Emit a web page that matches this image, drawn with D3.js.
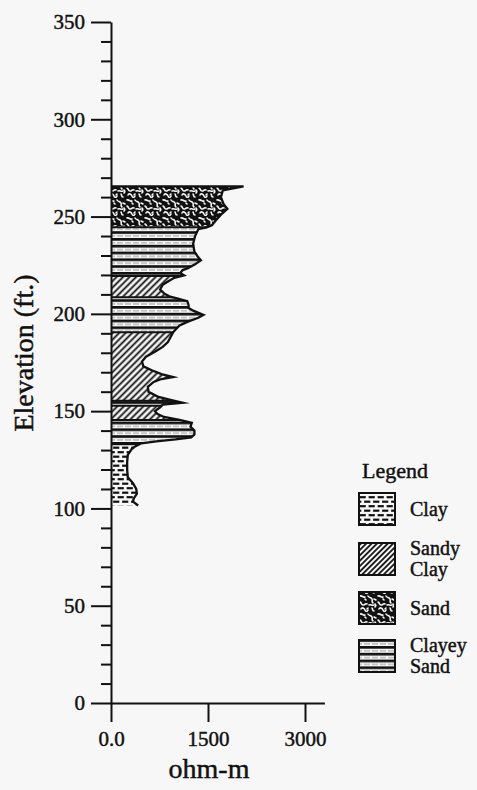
<!DOCTYPE html>
<html>
<head>
<meta charset="utf-8">
<script src="https://cdn.jsdelivr.net/npm/d3@7"></script>
<style>
  html, body { margin: 0; padding: 0; background: #f7f7f7; }
  svg { display: block; font-family: "Liberation Serif", "Times New Roman", serif; }
  svg text { stroke: #111; stroke-width: 0.45px; }
</style>
</head>
<body>
<svg id="chart" width="477" height="790"></svg>
<script>
// Resistivity log, read from top of hole to bottom
const logElevation = [265.5, 263.5, 260, 256.5, 254, 251, 248, 245.5, 244.5, 243.5, 240, 236, 232, 229.5, 227.5, 225.5, 223.5, 222.5, 221, 219.8, 218.5, 217, 215, 212.5, 210.5, 209, 208, 206.5, 204.5, 203, 201.5, 199.5, 198, 196, 194, 192, 190.5, 188, 185.5, 183, 180.5, 178, 175.5, 173, 171, 169, 167.5, 166.5, 165, 162.5, 160, 157.5, 155.5, 154.3, 153.3, 152, 150, 148.5, 147, 145.5, 144, 142, 140, 138, 136.5, 135.5, 134.5, 133.5, 132, 130.5, 127.5, 124, 120, 116, 113, 110, 107.5, 105, 103.5, 101.5];
const logResistivity = [2050, 1730, 1700, 1740, 1800, 1700, 1620, 1560, 1480, 1350, 1300, 1270, 1290, 1340, 1390, 1300, 1190, 1110, 1070, 1130, 980, 900, 800, 760, 820, 900, 1020, 1180, 1200, 1200, 1280, 1430, 1350, 1190, 1060, 1000, 960, 920, 880, 800, 680, 540, 480, 500, 630, 780, 960, 780, 660, 570, 580, 720, 950, 1110, 800, 760, 680, 720, 820, 1060, 1250, 1230, 1290, 1290, 1240, 1000, 700, 470, 380, 320, 260, 250, 250, 260, 340, 390, 400, 350, 340, 420];

// Lithology intervals (ft)
const layerTop    = [265.5, 244.5, 219.5, 208.5, 190.5, 155.3, 152.8, 145.5, 133];
const layerBottom = [244.5, 219.5, 208.5, 190.5, 155.3, 152.8, 145.5, 133, 101.5];
const layerType   = ["sand", "clayeySand", "sandyClay", "clayeySand", "sandyClay", "clayeySand", "sandyClay", "clayeySand", "clay"];

// Axes
const elevTickValues = [0, 50, 100, 150, 200, 250, 300, 350];
const elevMinorTicks = [10, 20, 30, 40, 60, 70, 80, 90, 110, 120, 130, 140, 160, 170, 180, 190, 210, 220, 230, 240, 260, 270, 280, 290, 310, 320, 330, 340];
const resTickValues = [0, 1500, 3000];
const resTickLabels = ["0.0", "1500", "3000"];

// Legend
const legendKeys = ["clay", "sandyClay", "sand", "clayeySand"];
const legendLabels = [["Clay"], ["Sandy", "Clay"], ["Sand"], ["Clayey", "Sand"]];

const PAPER = "#f7f7f7";
const INK = "#111";

const svg = d3.select("#chart");
svg.append("rect").attr("width", 477).attr("height", 790).attr("fill", PAPER).attr("stroke", "none");

const y = d3.scaleLinear().domain([0, 350]).range([703, 22]);
const x = d3.scaleLinear().domain([0, 3300]).range([111, 324.4]);

// ---- fill patterns ----
const defs = svg.append("defs");

// clayey sand: heavy horizontal rules with a faint dashed rule between
const pCS = defs.append("pattern").attr("id", "clayeySand")
  .attr("patternUnits", "userSpaceOnUse").attr("width", 8).attr("height", 6.8);
pCS.append("rect").attr("width", 8).attr("height", 6.8).attr("fill", PAPER);
pCS.append("rect").attr("y", 0).attr("width", 8).attr("height", 2.7).attr("fill", INK);
pCS.append("line").attr("x1", 0).attr("x2", 8).attr("y1", 4.8).attr("y2", 4.8)
  .attr("stroke", "#555").attr("stroke-width", 0.6).attr("stroke-dasharray", "3,2");

// sandy clay: diagonal hatching
function hatch(id, spacing) {
  const p = defs.append("pattern").attr("id", id)
    .attr("patternUnits", "userSpaceOnUse").attr("width", spacing).attr("height", spacing)
    .attr("patternTransform", "rotate(45)");
  p.append("rect").attr("width", spacing).attr("height", spacing).attr("fill", PAPER);
  p.append("line").attr("x1", spacing / 2).attr("x2", spacing / 2).attr("y1", 0).attr("y2", spacing)
    .attr("stroke", INK).attr("stroke-width", 1.8);
}
hatch("sandyClay", 4.6);
hatch("sandyClayKey", 3.8);

// clay: staggered brick dashes
const pC = defs.append("pattern").attr("id", "clay")
  .attr("patternUnits", "userSpaceOnUse").attr("width", 9).attr("height", 9);
pC.append("rect").attr("width", 9).attr("height", 9).attr("fill", PAPER);
[[0.6, 2.2, 6.8, 2.2], [5.1, 6.7, 9, 6.7], [0, 6.7, 2.3, 6.7]].forEach(s => {
  pC.append("line").attr("x1", s[0]).attr("y1", s[1]).attr("x2", s[2]).attr("y2", s[3])
    .attr("stroke", INK).attr("stroke-width", 2.2);
});

// sand: dark ground broken by curly light grains
const pS = defs.append("pattern").attr("id", "sand")
  .attr("patternUnits", "userSpaceOnUse").attr("width", 18).attr("height", 18);
pS.append("rect").attr("width", 18).attr("height", 18).attr("fill", INK);
[
  "M1,2 c2,-1 3,2 5,1",
  "M9,2 c1,2 3,1 4,3 s-1,3 1,4",
  "M1,8 c2,1 1,3 3,3 c2,0 2,-2 4,-1",
  "M10,11 c2,-1 3,1 5,0",
  "M2,15 c1,-2 3,-1 4,1 s2,2 3,0",
  "M13,14 c1,1 0,3 2,3",
  "M15,5 l2,1",
  "M6,5 l1,1",
  "M16,10 c1,1 1,2 0,3",
  "M8,15 l1,-1"
].forEach(d => {
  pS.append("path").attr("d", d).attr("fill", "none").attr("stroke", PAPER)
    .attr("stroke-width", 1.6).attr("stroke-linecap", "round");
});

// ---- log profile ----
const pts = logElevation.map((e, i) => ({ e: e, r: logResistivity[i] }));

const area = d3.area()
  .y(d => y(d.e))
  .x0(x(0))
  .x1(d => x(d.r));

// resistivity on the log at a given elevation (linear between samples)
function resAt(e) {
  for (let i = 0; i < pts.length - 1; i++) {
    const a = pts[i], b = pts[i + 1];
    if (e <= a.e && e >= b.e) {
      const t = (a.e - e) / (a.e - b.e);
      return a.r + t * (b.r - a.r);
    }
  }
  return pts[pts.length - 1].r;
}

const plot = svg.append("g");
layerType.forEach((type, i) => {
  const cid = "clip" + i;
  defs.append("clipPath").attr("id", cid).append("rect")
    .attr("x", x(0)).attr("width", 300)
    .attr("y", y(layerTop[i])).attr("height", y(layerBottom[i]) - y(layerTop[i]));
  plot.append("path").datum(pts)
    .attr("d", area)
    .attr("fill", "url(#" + type + ")")
    .attr("clip-path", "url(#" + cid + ")");
});

// interval boundaries
const bounds = layerBottom.slice(0, -1);
plot.selectAll("line.bound").data(bounds).join("line")
  .attr("class", "bound")
  .attr("x1", x(0)).attr("x2", d => x(resAt(d)))
  .attr("y1", d => y(d)).attr("y2", d => y(d))
  .attr("stroke", INK).attr("stroke-width", 2);

// outline of the log
const outline = [{ e: logElevation[0], r: 0 }].concat(pts);
plot.append("path").datum(outline)
  .attr("d", d3.line().x(d => x(d.r)).y(d => y(d.e)))
  .attr("fill", "none").attr("stroke", INK).attr("stroke-width", 2.3)
  .attr("stroke-linejoin", "miter").attr("stroke-miterlimit", 10);

// ---- axes ----
const yAxis = svg.append("g").attr("transform", `translate(${x(0)},0)`)
  .call(d3.axisLeft(y).tickValues(elevTickValues).tickSize(20).tickSizeOuter(0).tickPadding(6));
const yMinor = svg.append("g").attr("transform", `translate(${x(0)},0)`)
  .call(d3.axisLeft(y).tickValues(elevMinorTicks).tickSize(10).tickFormat(""));
yMinor.select(".domain").remove();

const xAxis = svg.append("g").attr("transform", `translate(0,${y(0)})`)
  .call(d3.axisBottom(x).tickValues(resTickValues).tickFormat((d, i) => resTickLabels[i])
    .tickSize(19).tickSizeOuter(0).tickPadding(9));

[yAxis, yMinor, xAxis].forEach(g => {
  g.selectAll("path, line").attr("stroke", INK).attr("stroke-width", 2);
  g.selectAll("text").attr("fill", INK).attr("font-size", 21)
    .attr("font-family", "'Liberation Serif', 'Times New Roman', serif");
});

svg.append("text")
  .attr("transform", `translate(33,353) rotate(-90)`)
  .attr("text-anchor", "middle")
  .attr("font-size", 28).attr("fill", INK)
  .text("Elevation (ft.)");

svg.append("text")
  .attr("x", 209).attr("y", 778)
  .attr("text-anchor", "middle")
  .attr("font-size", 28).attr("fill", INK)
  .text("ohm-m");

// ---- legend ----
const legend = svg.append("g").attr("transform", "translate(359,0)");
legend.append("text").attr("x", 3).attr("y", 478)
  .attr("font-size", 22).attr("fill", INK).text("Legend");

const keyTop = [493, 543, 592, 640];
legendKeys.forEach((k, i) => {
  legend.append("rect")
    .attr("x", 0).attr("y", keyTop[i]).attr("width", 36).attr("height", 32)
    .attr("fill", k === "sandyClay" ? "url(#sandyClayKey)" : "url(#" + k + ")")
    .attr("stroke", INK).attr("stroke-width", 2);
  const lines = legendLabels[i];
  const first = lines.length === 1 ? keyTop[i] + 23 : keyTop[i] + 12;
  lines.forEach((t, j) => {
    legend.append("text")
      .attr("x", 51).attr("y", first + j * 21)
      .attr("font-size", 20).attr("fill", INK).text(t);
  });
});
</script>
</body>
</html>
